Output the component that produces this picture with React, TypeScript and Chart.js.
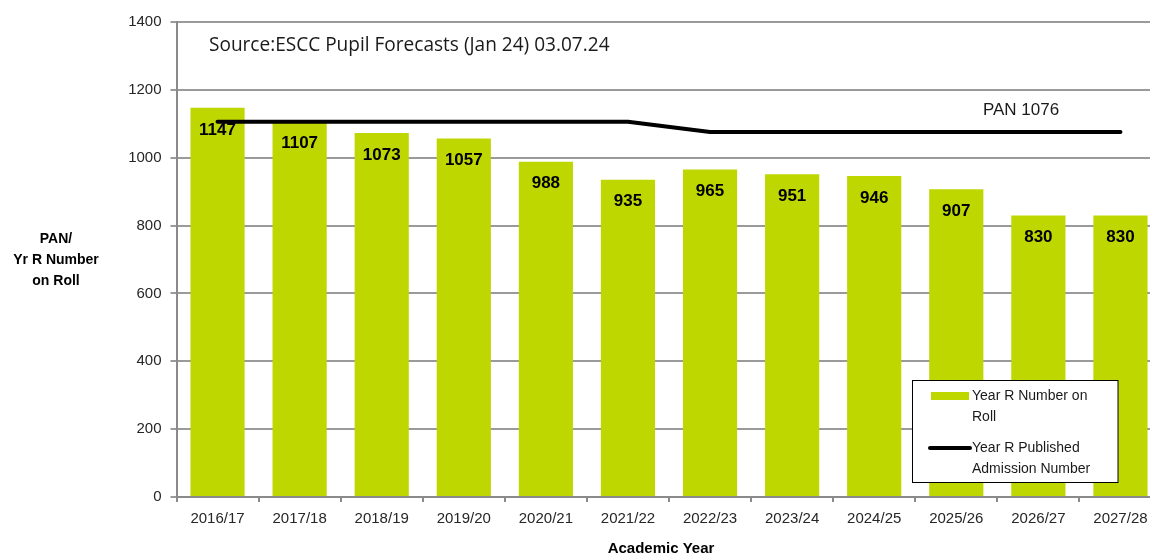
import React, { useEffect, useRef } from "react";
import { Chart, registerables } from "chart.js";

Chart.register(...registerables);

const categories = ["2016/17","2017/18","2018/19","2019/20","2020/21","2021/22","2022/23","2023/24","2024/25","2025/26","2026/27","2027/28"];
const rollValues = [1147, 1107, 1073, 1057, 988, 935, 965, 951, 946, 907, 830, 830];
const panValues = [1106, 1106, 1106, 1106, 1106, 1106, 1076, 1076, 1076, 1076, 1076, 1076];
const yTicks = [0, 200, 400, 600, 800, 1000, 1200, 1400];
const sourceText = "Source:ESCC Pupil Forecasts (Jan 24) 03.07.24";
const panText = "PAN 1076";
const yTitleLines = ["PAN/", "Yr R Number", "on Roll"];
const xTitle = "Academic Year";
const legendItems = [
  { lines: ["Year R Number on", "Roll"], type: "bar" },
  { lines: ["Year R Published", "Admission Number"], type: "line" },
];

const BAR_COLOR = "#bfd700";
const SANS = '"Liberation Sans", Arial, sans-serif';

const overlayPlugin = {
  id: "overlay",
  afterDatasetsDraw(chart: any) {
    const ctx = chart.ctx;
    const meta = chart.getDatasetMeta(1);
    ctx.save();
    ctx.fillStyle = "#000";
    ctx.font = `bold 17px ${SANS}`;
    ctx.textAlign = "center";
    ctx.textBaseline = "middle";
    meta.data.forEach((bar: any, i: number) => {
      ctx.fillText(String(rollValues[i]), bar.x, bar.y + 22);
    });
    ctx.restore();
  },
  afterDraw(chart: any) {
    const ctx = chart.ctx;
    ctx.save();
    ctx.fillStyle = "#1a1a1a";
    ctx.textBaseline = "middle";
    ctx.textAlign = "left";
    ctx.font = `20px "Open Sans"`;
    const w = ctx.measureText(sourceText).width;
    const size = 20 * 401 / w;
    ctx.font = `${size}px "Open Sans"`;
    ctx.fillText(sourceText, 209, 46);
    ctx.font = `17px ${SANS}`;
    ctx.textAlign = "center";
    ctx.fillText(panText, 1021, 110);
    ctx.fillStyle = "#000";
    ctx.font = `bold 14px ${SANS}`;
    yTitleLines.forEach((t, i) => ctx.fillText(t, 56, 239 + i * 21));
    ctx.font = `bold 15px ${SANS}`;
    ctx.fillText(xTitle, 661, 549);
    ctx.fillStyle = "#fff";
    ctx.fillRect(912.5, 380.5, 205.5, 102);
    ctx.strokeStyle = "#000";
    ctx.lineWidth = 1;
    ctx.strokeRect(912.5, 380.5, 205.5, 102);
    ctx.fillStyle = BAR_COLOR;
    ctx.fillRect(931, 392, 38, 8);
    ctx.strokeStyle = "#000";
    ctx.lineWidth = 4;
    ctx.lineCap = "round";
    ctx.beginPath();
    ctx.moveTo(930, 448);
    ctx.lineTo(970, 448);
    ctx.stroke();
    ctx.fillStyle = "#1a1a1a";
    ctx.font = `14px ${SANS}`;
    ctx.textAlign = "left";
    ctx.fillText(legendItems[0].lines[0], 972, 396);
    ctx.fillText(legendItems[0].lines[1], 972, 417);
    ctx.fillText(legendItems[1].lines[0], 972, 448);
    ctx.fillText(legendItems[1].lines[1], 972, 469);
    ctx.restore();
  },
};

export default function App() {
  const ref = useRef<HTMLCanvasElement>(null);
  useEffect(() => {
    if (!ref.current) return;
    const chart = new Chart(ref.current, {
      type: "bar",
      data: {
        labels: categories,
        datasets: [
          {
            type: "line",
            label: "Year R Published Admission Number",
            data: panValues,
            borderColor: "#000",
            backgroundColor: "#000",
            borderWidth: 4,
            borderCapStyle: "round",
            borderJoinStyle: "round",
            pointRadius: 0,
            tension: 0,
            order: 0,
          } as any,
          {
            type: "bar",
            label: "Year R Number on Roll",
            data: rollValues,
            backgroundColor: BAR_COLOR,
            barPercentage: 0.66,
            categoryPercentage: 1.0,
            order: 1,
          },
        ],
      },
      options: {
        animation: false,
        responsive: false,
        layout: { padding: { top: 22, right: 8.5, left: 0, bottom: 0 } },
        plugins: { legend: { display: false }, tooltip: { enabled: false }, title: { display: false } },
        scales: {
          x: {
            grid: { drawOnChartArea: false, drawTicks: true, tickLength: 5, color: "#8a8a8a", lineWidth: 2 },
            border: { color: "#8a8a8a", width: 2 },
            ticks: { color: "#262626", font: { size: 15, family: SANS }, padding: 8, maxRotation: 0, autoSkip: false },
            afterFit: (s: any) => { s.height = 56; },
          },
          y: {
            min: 0,
            max: 1400,
            afterBuildTicks: (s: any) => { s.ticks = yTicks.map((v) => ({ value: v })); },
            grid: { color: "#9a9a9a", lineWidth: 2, drawTicks: true, tickLength: 6 },
            border: { color: "#8a8a8a", width: 2 },
            ticks: { color: "#262626", font: { size: 15, family: SANS }, padding: 9, callback: (v: any) => String(v) },
            afterFit: (s: any) => { s.width = 176.5; },
          },
        },
      },
      plugins: [overlayPlugin],
    });
    return () => chart.destroy();
  }, []);
  return (
    <div style={{ position: "fixed", left: 0, top: 0, width: 1150, height: 553, overflow: "hidden", background: "#fff" }}>
      <div style={{ width: 1170, height: 553 }}>
        <canvas ref={ref} width={1170} height={553} style={{ display: "block" }} />
      </div>
    </div>
  );
}
